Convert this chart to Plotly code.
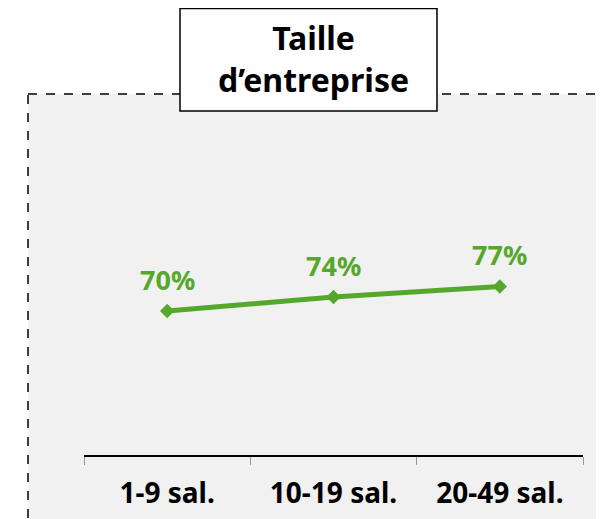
import plotly.graph_objects as go

categories = ["1-9 sal.", "10-19 sal.", "20-49 sal."]
values = [70, 74, 77]
value_labels = ["70%", "74%", "77%"]
title_text = "Taille<br>d’entreprise"

GREEN = "#55a82b"
FONT = "Noto Sans"
# page body has an 8px margin: design in figure pixels (screen - 8)
W, H = 604, 519
L, R, T, B = 76, 29, 92, 72
pw, ph = W - L - R, H - T - B

def px_x(px):
    return (px - L) / pw

def px_y(py):
    return (H - B - py) / ph

fig = go.Figure()
fig.add_trace(go.Scatter(
    x=categories, y=values, mode="lines+markers",
    line=dict(color=GREEN, width=5),
    marker=dict(symbol="diamond", size=11, color=GREEN),
    cliponaxis=False, hoverinfo="skip",
))

annotations = [
    dict(text=lab, x=c, y=v, xref="x", yref="y", showarrow=False,
         xanchor="center", yanchor="middle", yshift=32,
         font=dict(family=FONT, size=27, color=GREEN, weight="bold"))
    for c, v, lab in zip(categories, values, value_labels)
]
annotations.append(dict(text=title_text, xref="paper", yref="paper",
                        x=px_x(305), y=px_y(51), xanchor="center", yanchor="middle",
                        showarrow=False,
                        font=dict(family=FONT, size=32, color="#000000", weight="bold")))

shapes = [
    dict(type="rect", xref="paper", yref="paper", layer="below",
         x0=px_x(20), x1=px_x(640), y0=px_y(86), y1=px_y(560),
         fillcolor="#f1f1f1", line=dict(color="#000000", width=1.5, dash="dash")),
    dict(type="rect", xref="paper", yref="paper", layer="below",
         x0=px_x(172), x1=px_x(429), y0=px_y(0.5), y1=px_y(103),
         fillcolor="#ffffff", line=dict(color="#000000", width=1.5)),
]

fig.update_layout(
    width=W, height=H, margin=dict(l=L, r=R, t=T, b=B),
    paper_bgcolor="#ffffff", plot_bgcolor="rgba(0,0,0,0)",
    showlegend=False, shapes=shapes, annotations=annotations,
    xaxis=dict(type="category", range=[-0.5, 2.5], showgrid=False, zeroline=False,
               showline=True, linecolor="#000000", linewidth=1.5,
               ticks="outside", tickson="boundaries", ticklen=8, tickcolor="#999999",
               tickwidth=1, ticklabelstandoff=13,
               tickfont=dict(family=FONT, size=28, color="#000000", weight="bold")),
    yaxis=dict(range=[70 - (455 - 311) / 3.5, 70 + (311 - 100) / 3.5], visible=False,
               showgrid=False, zeroline=False),
)

fig.write_html("out.html")
